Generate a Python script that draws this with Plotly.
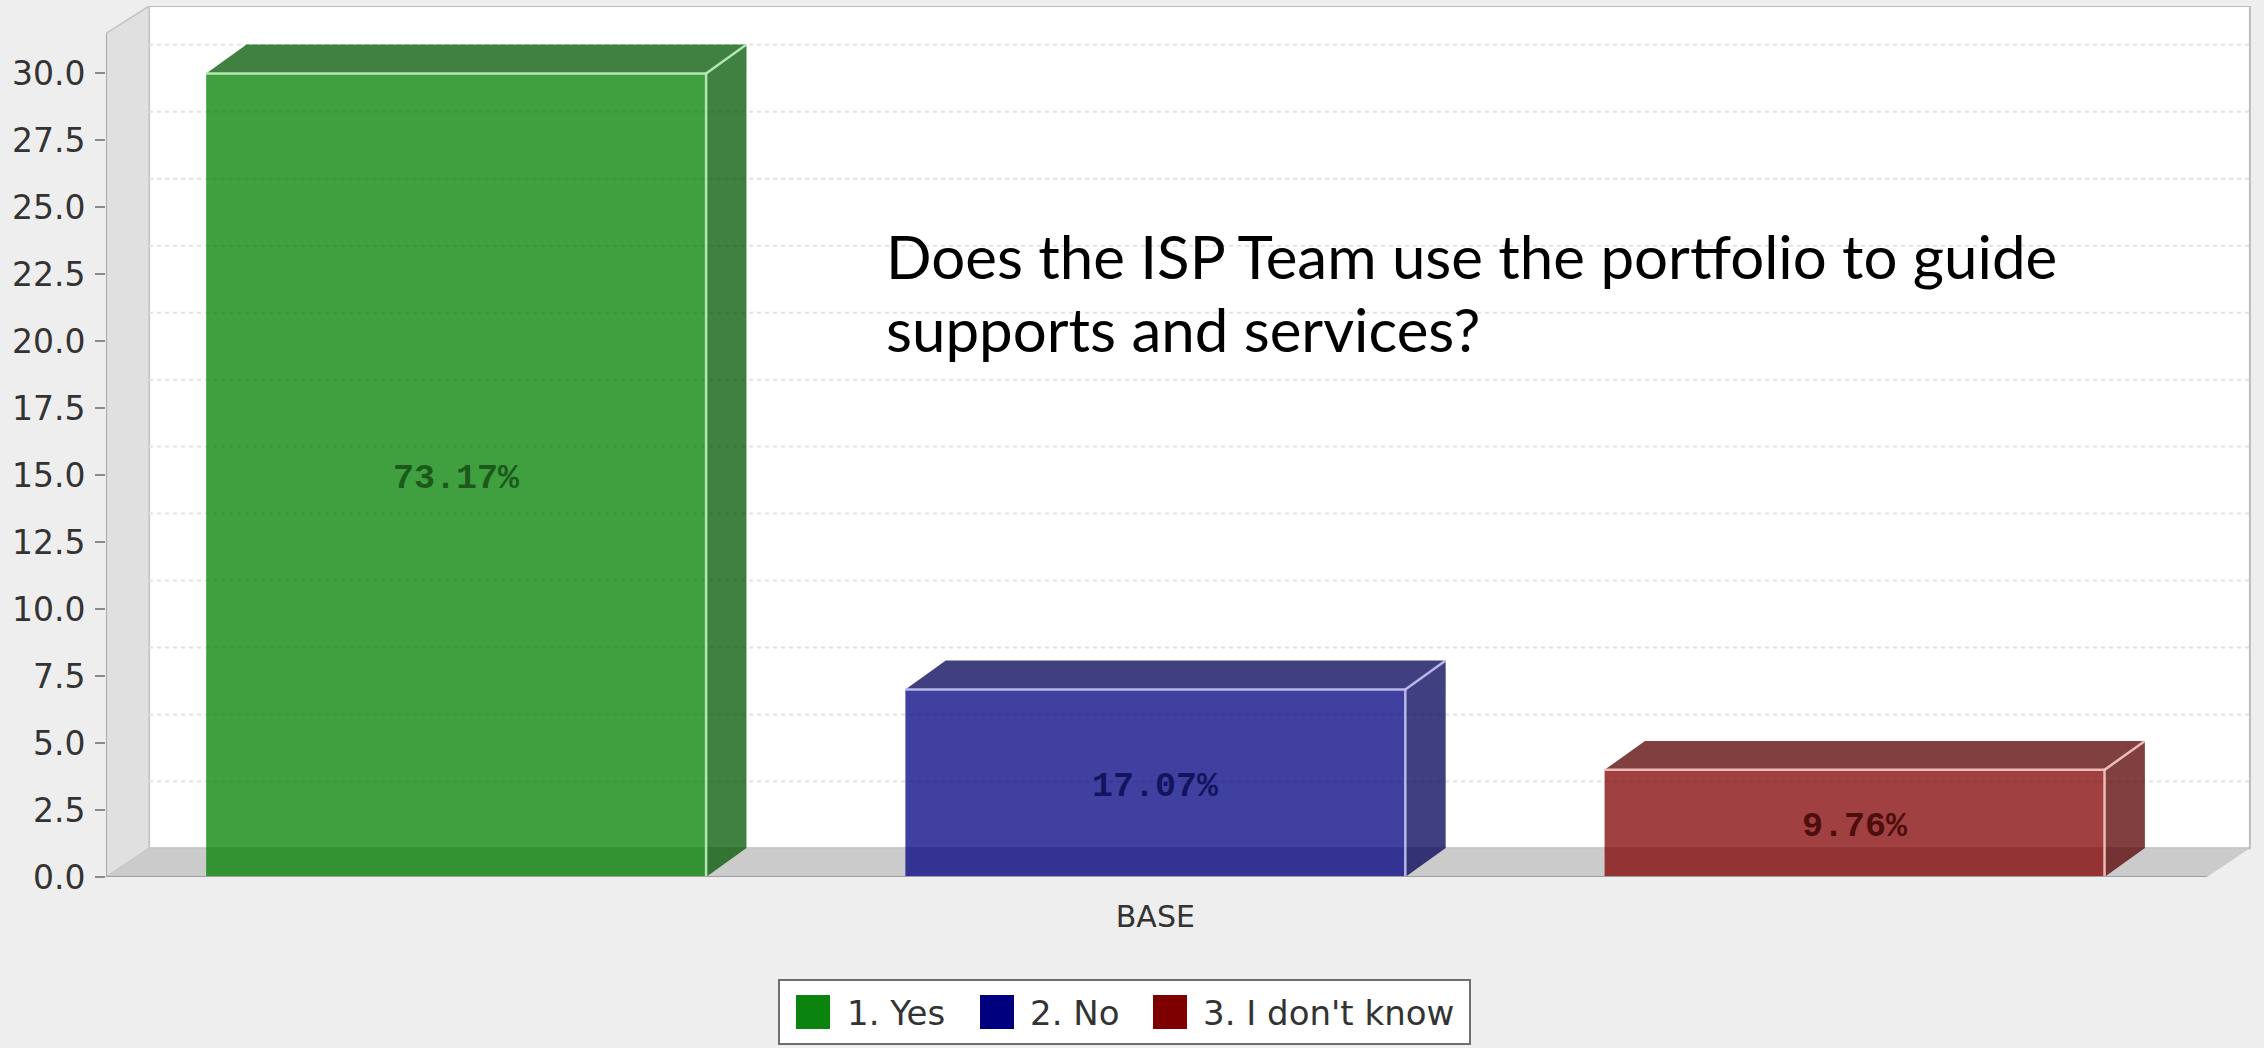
import plotly.graph_objects as go

# Data
categories = ["BASE"]
series_names = ["1. Yes", "2. No", "3. I don't know"]
series_values = [30, 7, 4]
series_labels = ["73.17%", "17.07%", "9.76%"]
tick_values = [0, 2.5, 5, 7.5, 10, 12.5, 15, 17.5, 20, 22.5, 25, 27.5, 30]
tick_labels = ["0.0", "2.5", "5.0", "7.5", "10.0", "12.5", "15.0", "17.5", "20.0", "22.5", "25.0", "27.5", "30.0"]
title_lines = ["Does the ISP Team use the portfolio to guide", "supports and services?"]

# Styles
front_colors = ["rgba(0,128,0,0.75)", "rgba(0,0,128,0.75)", "rgba(128,0,0,0.75)"]
side_colors = ["rgba(0,85,0,0.75)", "rgba(0,0,85,0.75)", "rgba(85,0,0,0.75)"]
edge_colors = ["rgba(190,240,190,0.9)", "rgba(195,195,245,0.9)", "rgba(245,200,195,0.9)"]
label_colors = ["#1c5a1c", "#14145e", "#4e0e0e"]
swatch_colors = ["#0a840f", "#00007e", "#7e0000"]

W, H = 2264, 1048
L, R, T, B = 106, 12, 6, 171
X_MIN, X_MAX = -0.499, 0.5215
Y_MIN, Y_MAX = 0.0, 32.52
BARGAP = 0.0025
GROUPGAP = 0.285
DX_WALL, DY_WALL = 0.0205, 1.07
DX_BAR, DY_BAR = 0.0192, 1.08
Y_WALL_TOP = 31.5


def paper_x(px):
    return (px - L) / (W - L - R)


def paper_y(py):
    return (H - B - py) / (H - T - B)


fig = go.Figure()
annotations = []

# Front faces of the bars
for name, v, col in zip(series_names, series_values, front_colors):
    fig.add_trace(go.Bar(
        x=[0], y=[v], name=name,
        marker=dict(color=col, line=dict(width=0)), showlegend=False,
        hoverinfo="name+y",
    ))

# Side and top faces, light outlines and value labels of each bar
slot = (1 - BARGAP) / len(series_values)
half = slot * (1 - GROUPGAP) / 2
for i, v in enumerate(series_values):
    c = (i - 1) * slot
    x0, x1 = c - half, c + half
    fig.add_trace(go.Scatter(
        x=[x1, x1 + DX_BAR, x1 + DX_BAR, x1, x1], y=[0, DY_BAR, v + DY_BAR, v, 0],
        mode="lines", fill="toself", fillcolor=side_colors[i], line=dict(width=0),
        showlegend=False, hoverinfo="skip"))
    fig.add_trace(go.Scatter(
        x=[x0, x0 + DX_BAR, x1 + DX_BAR, x1, x0], y=[v, v + DY_BAR, v + DY_BAR, v, v],
        mode="lines", fill="toself", fillcolor=side_colors[i], line=dict(width=0),
        showlegend=False, hoverinfo="skip"))
    fig.add_trace(go.Scatter(
        x=[x0, x1, x1, None, x1, x1 + DX_BAR], y=[v, v, 0, None, v, v + DY_BAR],
        mode="lines", line=dict(color=edge_colors[i], width=2.5),
        showlegend=False, hoverinfo="skip"))
    annotations.append(dict(xref="x", yref="y", x=c, y=v / 2, yshift=-4, showarrow=False,
                            text=series_labels[i],
                            font=dict(family="Liberation Mono", size=35, color=label_colors[i], weight="bold")))

xl, xr = -0.499, 0.5
shapes = []
# back wall
shapes.append(dict(type="rect", xref="x", yref="y", layer="below",
                   x0=xl + DX_WALL, x1=xr + DX_WALL, y0=DY_WALL, y1=Y_MAX,
                   fillcolor="#ffffff", line=dict(color="#bdbdbd", width=2)))
# side wall
shapes.append(dict(type="path", xref="x", yref="y", layer="below",
                   path=f"M{xl},0 L{xl + DX_WALL},{DY_WALL} L{xl + DX_WALL},{Y_MAX} L{xl},{Y_WALL_TOP} Z",
                   fillcolor="#e0e0e0", line=dict(color="#c4c4c4", width=1.5)))
# floor
shapes.append(dict(type="path", xref="x", yref="y", layer="below",
                   path=f"M{xl},0 L{xr},0 L{xr + DX_WALL},{DY_WALL} L{xl + DX_WALL},{DY_WALL} Z",
                   fillcolor="#cbcbcb", line=dict(width=0)))
# gridlines on the back wall
for tv in tick_values[1:]:
    shapes.append(dict(type="line", xref="x", yref="y", layer="below",
                       x0=xl + DX_WALL, x1=xr + DX_WALL, y0=tv + DY_WALL, y1=tv + DY_WALL,
                       line=dict(color="#e2e2e2", width=2, dash="4px,4px")))
# axis lines
shapes.append(dict(type="line", xref="x", yref="y", layer="below", x0=xl, x1=xl, y0=0, y1=Y_WALL_TOP,
                   line=dict(color="#a8a8a8", width=2)))
shapes.append(dict(type="line", xref="x", yref="y", layer="above", x0=xl, x1=xr, y0=0, y1=0,
                   line=dict(color="#a0a0a0", width=2)))

# Legend box
LEG_BOX = (779, 980, 1470, 1044)
shapes.append(dict(type="rect", xref="paper", yref="paper",
                   x0=paper_x(LEG_BOX[0]), x1=paper_x(LEG_BOX[2]),
                   y0=paper_y(LEG_BOX[3]), y1=paper_y(LEG_BOX[1]),
                   fillcolor="#ffffff", line=dict(color="#6e6e6e", width=2)))
swatch_x = [796, 980, 1153]
text_x = [845, 1028, 1201]
for sx, tx, name, col in zip(swatch_x, text_x, series_names, swatch_colors):
    shapes.append(dict(type="rect", xref="paper", yref="paper",
                       x0=paper_x(sx), x1=paper_x(sx + 34),
                       y0=paper_y(1029), y1=paper_y(995),
                       fillcolor=col, line=dict(width=0)))
    annotations.append(dict(xref="paper", yref="paper", x=paper_x(tx), y=paper_y(1013),
                            xanchor="left", yanchor="middle", showarrow=False, text=name,
                            font=dict(family="DejaVu Sans", size=34, color="#333333")))

# Title text
for line, py in zip(title_lines, [256, 329]):
    annotations.append(dict(xref="paper", yref="paper", x=paper_x(884), y=paper_y(py),
                            xanchor="left", yanchor="middle", align="left", showarrow=False,
                            text=line, font=dict(family="Lato", size=60, color="#000000")))

fig.update_layout(
    width=W, height=H, margin=dict(l=L, r=R, t=T, b=B, pad=0),
    paper_bgcolor="#eeeeee", plot_bgcolor="rgba(0,0,0,0)",
    barmode="group", bargap=BARGAP, bargroupgap=GROUPGAP,
    showlegend=False, shapes=shapes, annotations=annotations,
    xaxis=dict(range=[X_MIN, X_MAX], tickvals=[0], ticktext=categories, showgrid=False, zeroline=False,
               showline=False, ticks="", tickfont=dict(family="DejaVu Sans", size=30, color="#333333"),
               ticklabelstandoff=19, fixedrange=True),
    yaxis=dict(range=[Y_MIN, Y_MAX], tickvals=tick_values, ticktext=tick_labels, showgrid=False, zeroline=False,
               showline=False, ticks="outside", ticklen=10, tickwidth=2, tickcolor="#8a8a8a",
               ticklabelstandoff=3,
               tickfont=dict(family="DejaVu Sans", size=33, color="#333333"), fixedrange=True),
)

fig.write_html("out.html", config={"displayModeBar": False},
               post_script="document.body.style.margin='0';document.body.style.background='#eeeeee';")
